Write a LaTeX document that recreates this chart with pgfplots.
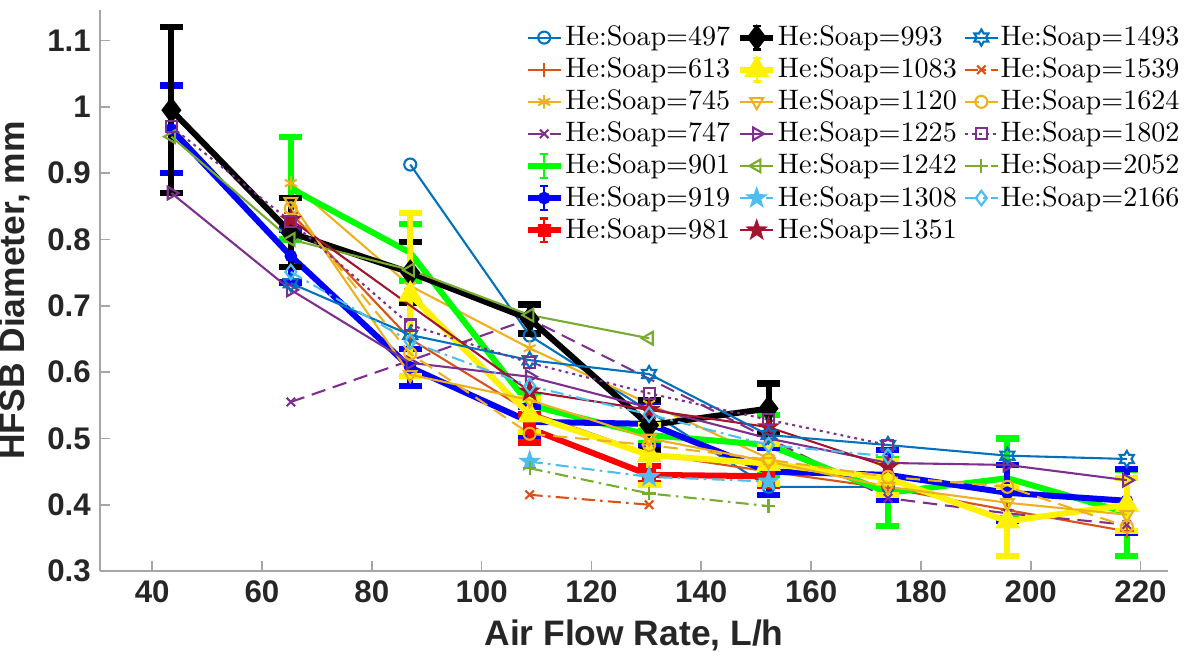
\documentclass[border=0pt]{standalone}
\usepackage{fontspec}
\newfontfamily\arialf{Liberation Sans}
\usepackage{pgfplots}
\pgfplotsset{compat=1.18}
\usetikzlibrary{plotmarks}
\definecolor{c1}{rgb}{0,0.447,0.741}
\definecolor{c2}{rgb}{0.85,0.325,0.098}
\definecolor{c3}{rgb}{0.929,0.694,0.125}
\definecolor{c4}{rgb}{0.494,0.184,0.556}
\definecolor{c5}{rgb}{0.466,0.674,0.188}
\definecolor{c6}{rgb}{0.301,0.745,0.933}
\definecolor{c7}{rgb}{0.635,0.078,0.184}
\pgfdeclareplotmark{pstar}{%
  \pgfpathmoveto{\pgfpointpolar{90}{\pgfplotmarksize}}%
  \pgfpathlineto{\pgfpointpolar{126}{0.4\pgfplotmarksize}}%
  \pgfpathlineto{\pgfpointpolar{162}{\pgfplotmarksize}}%
  \pgfpathlineto{\pgfpointpolar{198}{0.4\pgfplotmarksize}}%
  \pgfpathlineto{\pgfpointpolar{234}{\pgfplotmarksize}}%
  \pgfpathlineto{\pgfpointpolar{270}{0.4\pgfplotmarksize}}%
  \pgfpathlineto{\pgfpointpolar{306}{\pgfplotmarksize}}%
  \pgfpathlineto{\pgfpointpolar{342}{0.4\pgfplotmarksize}}%
  \pgfpathlineto{\pgfpointpolar{18}{\pgfplotmarksize}}%
  \pgfpathlineto{\pgfpointpolar{54}{0.4\pgfplotmarksize}}%
  \pgfpathclose\pgfusepathqfillstroke}
\pgfdeclareplotmark{hexa}{%
  \pgfpathmoveto{\pgfpointpolar{90}{\pgfplotmarksize}}%
  \pgfpathlineto{\pgfpointpolar{120}{0.577\pgfplotmarksize}}%
  \pgfpathlineto{\pgfpointpolar{150}{\pgfplotmarksize}}%
  \pgfpathlineto{\pgfpointpolar{180}{0.577\pgfplotmarksize}}%
  \pgfpathlineto{\pgfpointpolar{210}{\pgfplotmarksize}}%
  \pgfpathlineto{\pgfpointpolar{240}{0.577\pgfplotmarksize}}%
  \pgfpathlineto{\pgfpointpolar{270}{\pgfplotmarksize}}%
  \pgfpathlineto{\pgfpointpolar{300}{0.577\pgfplotmarksize}}%
  \pgfpathlineto{\pgfpointpolar{330}{\pgfplotmarksize}}%
  \pgfpathlineto{\pgfpointpolar{0}{0.577\pgfplotmarksize}}%
  \pgfpathlineto{\pgfpointpolar{30}{\pgfplotmarksize}}%
  \pgfpathlineto{\pgfpointpolar{60}{0.577\pgfplotmarksize}}%
  \pgfpathclose\pgfusepathqstroke}
\pgfplotsset{
  thin/.style={line width=0.8bp},
  thick/.style={line width=2.3bp},
  eb/.style={
    error bars/y dir=both, error bars/y explicit,
    error bars/error bar style={line width=2.3bp, solid},
    error bars/error mark options={rotate=90, line width=2.4bp, mark size=4.4bp, solid},
    legend image code/.code={%
      \draw[mark repeat=2,mark phase=2,##1] plot coordinates {(0cm,0cm) (0.225cm,0cm) (0.45cm,0cm)};
      \draw[##1, mark=none, solid, line width=0.9bp] (0.225cm,-0.16cm) -- (0.225cm,0.16cm)
        (0.17cm,-0.16cm) -- (0.28cm,-0.16cm) (0.17cm,0.16cm) -- (0.28cm,0.16cm);}
  },
}
\begin{document}
\begin{tikzpicture}
\begin{axis}[name=ax, at={(0,0)}, anchor=south west,
  scale only axis, width=408.7bp, height=214.7bp,
  xmin=30.5, xmax=225, ymin=0.3, ymax=1.146,
  axis lines=left, axis line style={-, draw=black!35, line width=0.6bp},
  tick align=inside, major tick length=3.8bp, tick style={black!35, line width=0.6bp},
  xtick={40,60,...,220}, ytick={0.3,0.4,0.5,0.6,0.7,0.8,0.9,1,1.1},
  tick label style={font=\arialf\bfseries\fontsize{12}{14}\selectfont, text=black!85},
  /pgf/number format/assume math mode=true,
  xlabel={Air Flow Rate, L/h}, ylabel={HFSB Diameter, mm},
  label style={font=\arialf\bfseries\fontsize{13.6}{16}\selectfont, text=black!85},
  legend image code/.code={\draw[mark repeat=2,mark phase=2,#1] plot coordinates {(0cm,0cm) (0.225cm,0cm) (0.45cm,0cm)};},
  legend columns=7, transpose legend,
  legend cell align=left,
  legend style={at={(0.397,0.975)}, anchor=north west, draw=none, fill=none,
    font=\fontsize{10.8}{12}\selectfont, row sep=2.35bp, column sep=0.2bp, inner sep=0pt,
    nodes={inner sep=0.4bp},
    /tikz/every even column/.append style={column sep=2.2bp}},
]
% 497
\addplot[c1, thin, mark=o, mark size=2.3bp] coordinates {(87,0.913) (108.75,0.655) (152.25,0.427) (174,0.427)};
\addlegendentry{He:Soap=497}
% 613
\addplot[c2, thin, mark=+, mark size=2.6bp] coordinates {(65.25,0.84) (87,0.65) (108.75,0.54) (130.5,0.477) (152.25,0.45) (174,0.425) (195.75,0.392) (217.5,0.36)};
\addlegendentry{He:Soap=613}
% 745
\addplot[c3, thin, mark=asterisk, mark size=2.6bp] coordinates {(65.25,0.885) (87,0.73) (108.75,0.636) (130.5,0.552) (152.25,0.47)};
\addlegendentry{He:Soap=745}
% 747
\addplot[c4, thin, dash pattern=on 5.5bp off 3bp, mark=x, mark size=2.3bp, mark options={solid}] coordinates {(65.25,0.555) (108.75,0.68) (174,0.41) (195.75,0.387) (217.5,0.37)};
\addlegendentry{He:Soap=747}
% 901
\addplot[green, thick, eb] coordinates {(65.25,0.877) +- (0,0.077) (87,0.78) +- (0,0.043) (108.75,0.55) +- (0,0.015) (130.5,0.505) +- (0,0.012) (152.25,0.49) +- (0,0.045) (174,0.418) +- (0,0.05) (195.75,0.44) +- (0,0.06) (217.5,0.388) +- (0,0.065)};
\addlegendentry{He:Soap=901}
% 919
\addplot[blue, thick, eb, mark=*, mark size=1.2bp] coordinates {(43.5,0.966) +- (0,0.066) (65.25,0.775) +- (0,0.04) (87,0.607) +- (0,0.028) (108.75,0.525) +- (0,0.023) (130.5,0.522) +- (0,0.033) (152.25,0.45) +- (0,0.035) (174,0.445) +- (0,0.037) (195.75,0.418) +- (0,0.042) (217.5,0.406) +- (0,0.048)};
\addlegendentry{He:Soap=919}
% 981
\addplot[red, thick, eb, mark=square*, mark size=1.4bp] coordinates {(108.75,0.515) +- (0,0.021) (130.5,0.445) +- (0,0.013) (152.25,0.443) +- (0,0.014)};
\addlegendentry{He:Soap=981}
% 993
\addplot[black, thick, eb, mark=diamond*, mark size=3.2bp] coordinates {(43.5,0.995) +- (0,0.125) (65.25,0.81) +- (0,0.052) (87,0.75) +- (0,0.046) (108.75,0.68) +- (0,0.022) (130.5,0.52) +- (0,0.038) (152.25,0.545) +- (0,0.038)};
\addlegendentry{He:Soap=993}
% 1083
\addplot[yellow, thick, eb, mark=triangle*, mark size=3.2bp] coordinates {(87,0.717) +- (0,0.123) (108.75,0.535) +- (0,0.025) (130.5,0.475) +- (0,0.045) (152.25,0.462) +- (0,0.03) (174,0.44) +- (0,0.025) (195.75,0.375) +- (0,0.052) (217.5,0.40) +- (0,0.04)};
\addlegendentry{He:Soap=1083}
% 1120
\addplot[c3, thin, mark=triangle, mark size=2.8bp, mark options={rotate=180}] coordinates {(65.25,0.857) (87,0.596) (108.75,0.558) (130.5,0.50) (152.25,0.465) (174,0.427) (195.75,0.403) (217.5,0.385)};
\addlegendentry{He:Soap=1120}
% 1225
\addplot[c4, thin, mark=triangle, mark size=2.8bp, mark options={rotate=-90}] coordinates {(43.5,0.87) (65.25,0.724) (87,0.614) (108.75,0.593) (152.25,0.50) (174,0.463) (195.75,0.46) (217.5,0.437)};
\addlegendentry{He:Soap=1225}
% 1242
\addplot[c5, thin, mark=triangle, mark size=2.8bp, mark options={rotate=90}] coordinates {(43.5,0.955) (65.25,0.80) (87,0.754) (108.75,0.686) (130.5,0.651)};
\addlegendentry{He:Soap=1242}
% 1308
\addplot[c6, thin, dash pattern=on 5bp off 2bp on 1bp off 2bp, mark=pstar, mark size=3.4bp, mark options={solid}] coordinates {(108.75,0.465) (130.5,0.442) (152.25,0.435)};
\addlegendentry{He:Soap=1308}
% 1351
\addplot[c7, thin, mark=pstar, mark size=3.4bp] coordinates {(65.25,0.83) (108.75,0.571) (130.5,0.543) (152.25,0.517) (174,0.457)};
\addlegendentry{He:Soap=1351}
% 1493
\addplot[c1, thin, mark=hexa, mark size=3.1bp] coordinates {(65.25,0.734) (87,0.656) (108.75,0.618) (130.5,0.597) (152.25,0.505) (174,0.49) (195.75,0.474) (217.5,0.469)};
\addlegendentry{He:Soap=1493}
% 1539
\addplot[c2, thin, dash pattern=on 5bp off 2bp on 1bp off 2bp, mark=x, mark size=2.3bp, mark options={solid}] coordinates {(108.75,0.415) (130.5,0.40)};
\addlegendentry{He:Soap=1539}
% 1624
\addplot[c3, thin, dash pattern=on 5.5bp off 3bp, mark=o, mark size=2.3bp, mark options={solid}] coordinates {(65.25,0.847) (87,0.628) (108.75,0.507) (130.5,0.49) (152.25,0.468) (174,0.442) (195.75,0.427) (217.5,0.367)};
\addlegendentry{He:Soap=1624}
% 1802
\addplot[c4, thin, dash pattern=on 1.1bp off 1.6bp, mark=square, mark size=2.1bp, mark options={solid}] coordinates {(43.5,0.97) (65.25,0.827) (87,0.671) (108.75,0.614) (130.5,0.568) (152.25,0.528) (174,0.49)};
\addlegendentry{He:Soap=1802}
% 2052
\addplot[c5, thin, dash pattern=on 5bp off 2bp on 1bp off 2bp, mark=+, mark size=2.6bp, mark options={solid}] coordinates {(108.75,0.455) (130.5,0.417) (152.25,0.398)};
\addlegendentry{He:Soap=2052}
% 2166
\addplot[c6, thin, dash pattern=on 5bp off 2bp on 1bp off 2bp, mark=diamond, mark size=2.8bp, mark options={solid}] coordinates {(65.25,0.751) (87,0.646) (108.75,0.579) (130.5,0.536) (152.25,0.49) (174,0.473)};
\addlegendentry{He:Soap=2166}
\end{axis}
\pgfresetboundingbox
\path[use as bounding box] ([xshift=-38.27bp,yshift=-32.53bp]ax.south west) rectangle ([xshift=6.51bp,yshift=3.83bp]ax.north east);
\end{tikzpicture}
\end{document}
